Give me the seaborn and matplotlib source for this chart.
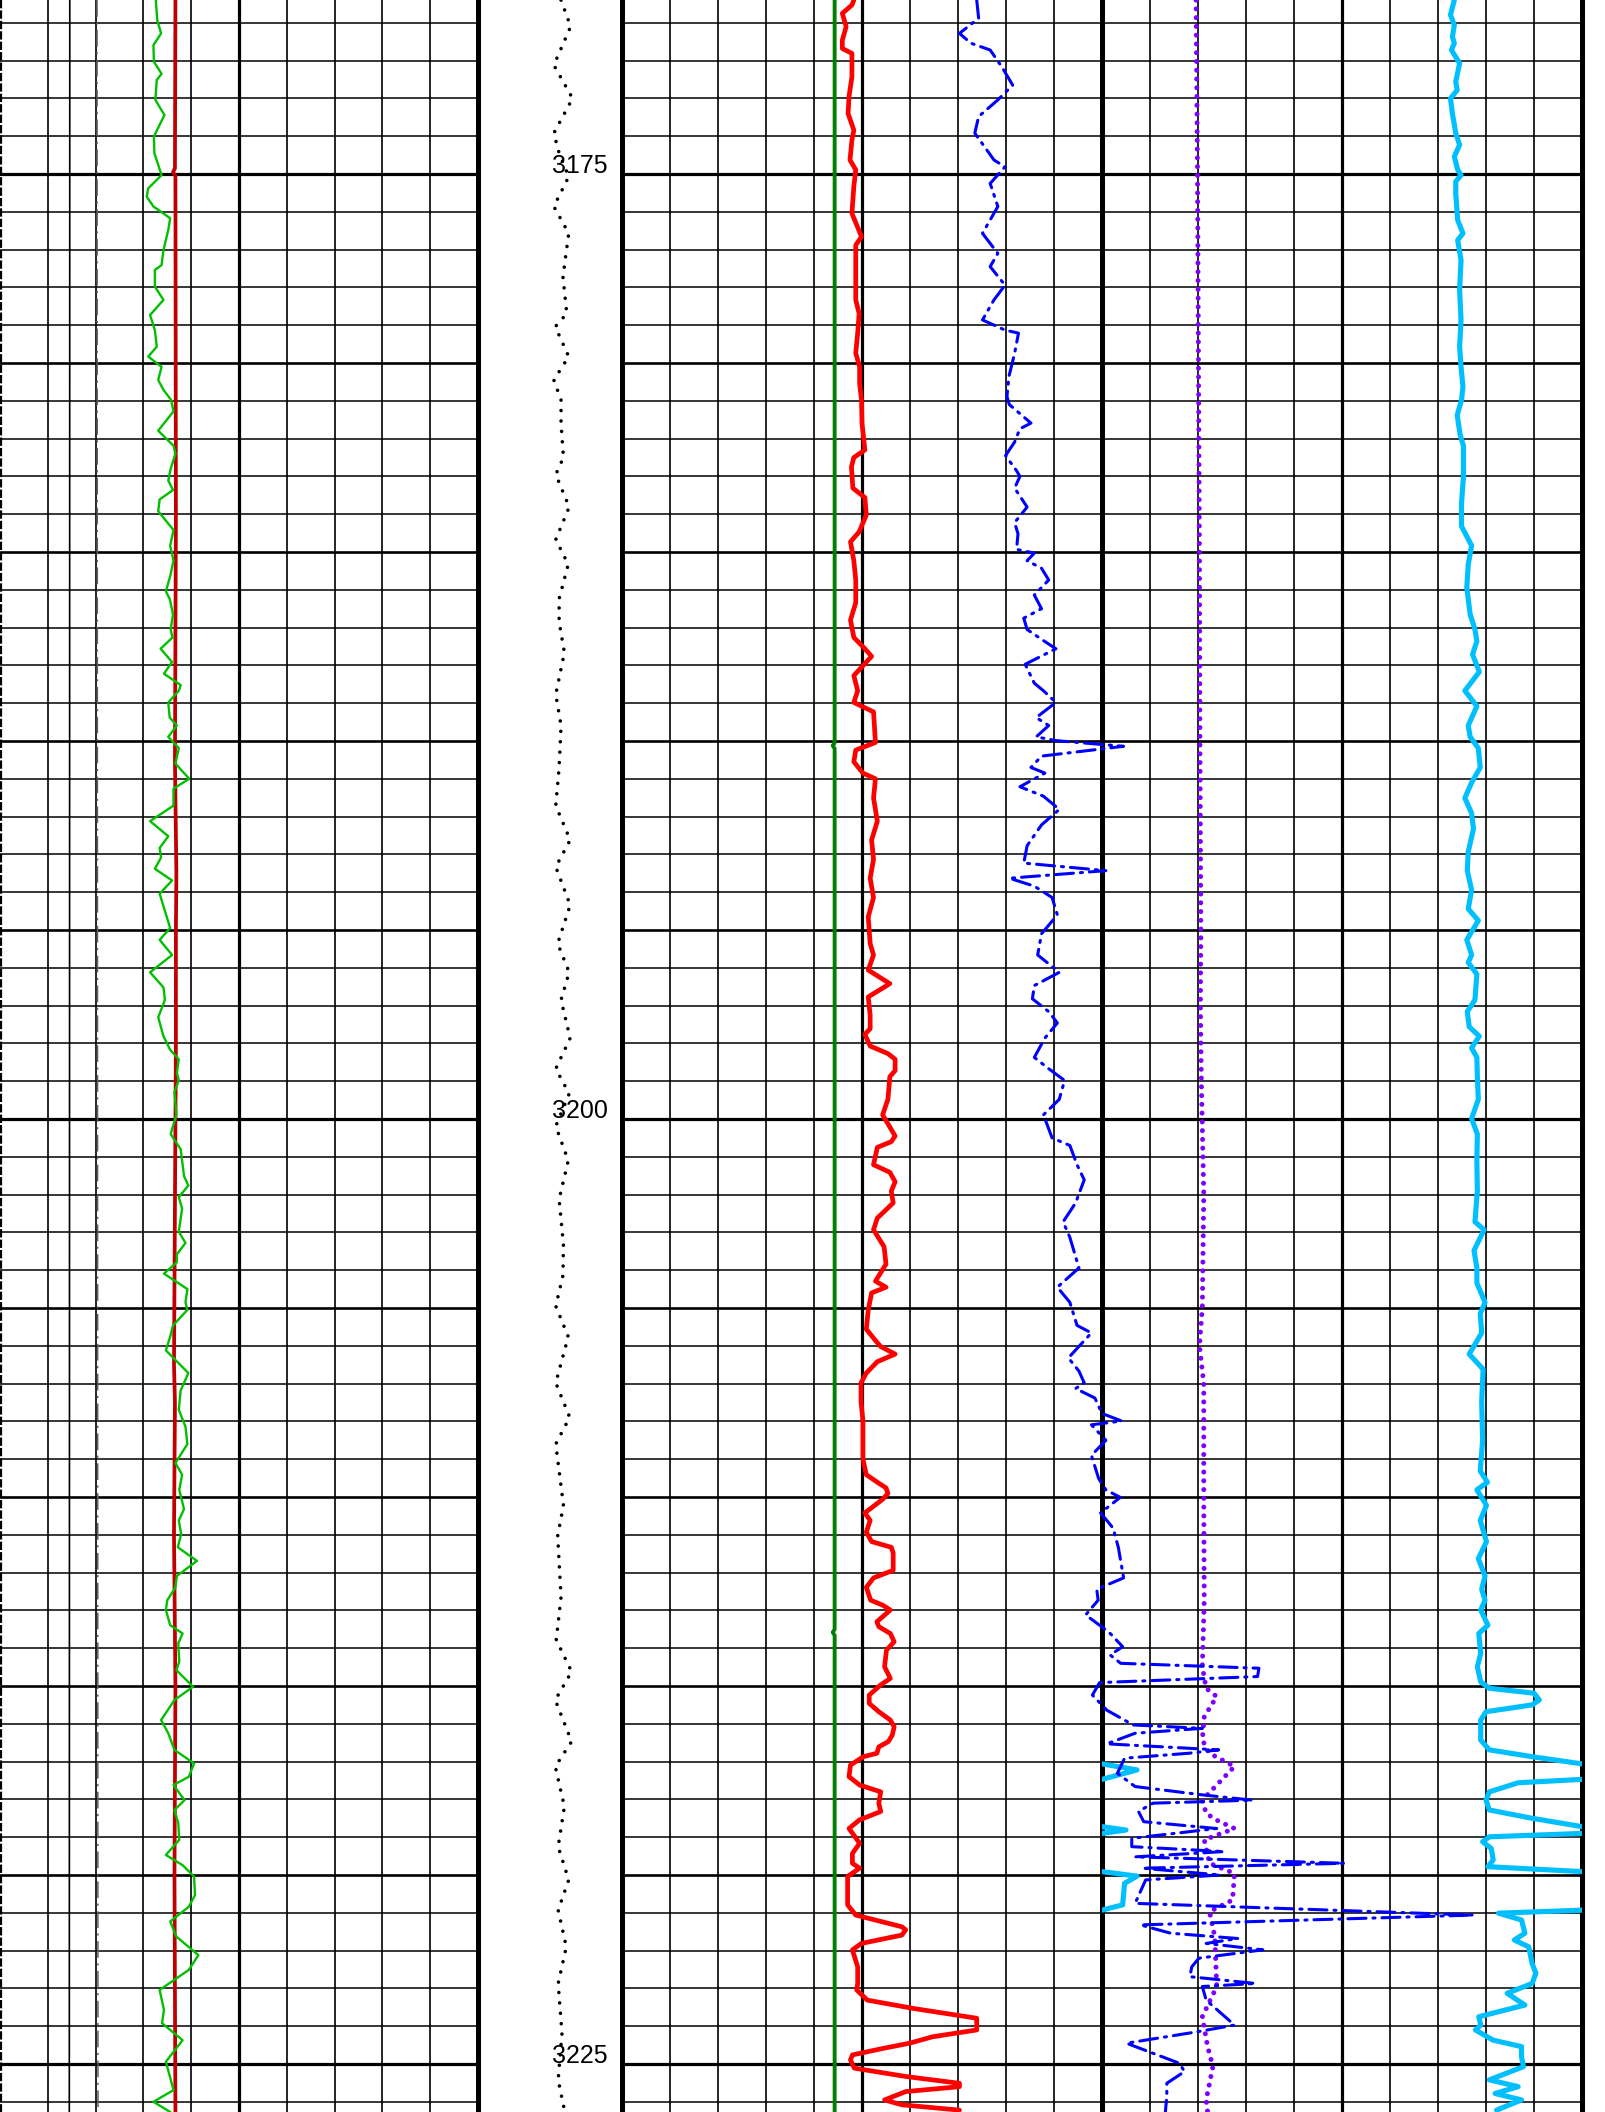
import numpy as np
import matplotlib
matplotlib.use("Agg")
import matplotlib.pyplot as plt
import seaborn as sns

sns.set_style("white")
plt.rcParams["font.family"] = ["Liberation Sans", "DejaVu Sans"]
plt.rcParams["lines.scale_dashes"] = False

# ---------------------------------------------------------------------------
# Log curves: (depth in m, reading in chart divisions of the track it uses)
# ---------------------------------------------------------------------------

# Track 1 -- gamma ray (thin green)
gr_log = [
    (3170.40, 3.26), (3170.93, 3.29), (3171.28, 3.37), (3171.59, 3.21), (3172.03, 3.22),
    (3172.35, 3.38), (3172.51, 3.28), (3173.04, 3.25), (3173.44, 3.44), (3174.01, 3.22),
    (3174.45, 3.23), (3175.03, 3.38), (3175.38, 3.10), (3175.60, 3.07), (3175.86, 3.21),
    (3176.17, 3.56), (3176.48, 3.52), (3177.01, 3.42), (3177.41, 3.38), (3177.54, 3.24),
    (3177.98, 3.24), (3178.33, 3.42), (3178.73, 3.14), (3179.13, 3.24), (3179.57, 3.28),
    (3179.83, 3.10), (3180.10, 3.38), (3180.45, 3.31), (3180.71, 3.42), (3180.98, 3.58),
    (3181.28, 3.63), (3181.79, 3.31), (3182.19, 3.63), (3182.40, 3.67), (3182.80, 3.57),
    (3183.11, 3.52), (3183.36, 3.62), (3183.61, 3.34), (3183.92, 3.31), (3184.42, 3.63),
    (3184.83, 3.56), (3185.23, 3.63), (3185.64, 3.56), (3186.04, 3.47), (3186.24, 3.55),
    (3186.65, 3.62), (3187.05, 3.57), (3187.26, 3.61), (3187.56, 3.36), (3187.91, 3.60),
    (3188.22, 3.43), (3188.52, 3.78), (3188.67, 3.74), (3188.98, 3.52), (3189.38, 3.55),
    (3189.59, 3.70), (3189.89, 3.52), (3190.19, 3.74), (3190.60, 3.67), (3191.00, 3.96),
    (3191.26, 3.63), (3191.71, 3.63), (3192.12, 3.14), (3192.52, 3.52), (3192.83, 3.34),
    (3193.08, 3.37), (3193.38, 3.24), (3193.69, 3.60), (3194.04, 3.34), (3194.95, 3.56),
    (3195.26, 3.34), (3195.66, 3.60), (3196.12, 3.14), (3196.52, 3.42), (3196.85, 3.45),
    (3197.31, 3.31), (3197.81, 3.42), (3198.17, 3.56), (3198.42, 3.74), (3198.78, 3.70),
    (3198.98, 3.74), (3199.28, 3.65), (3199.89, 3.69), (3200.40, 3.57), (3200.80, 3.78),
    (3201.10, 3.81), (3201.51, 3.85), (3201.76, 3.94), (3202.07, 3.74), (3202.37, 3.81),
    (3202.98, 3.74), (3203.28, 3.88), (3203.58, 3.70), (3203.79, 3.70), (3204.09, 3.43),
    (3204.50, 3.92), (3204.85, 3.88), (3205.05, 3.92), (3205.46, 3.62), (3205.76, 3.56),
    (3206.12, 3.47), (3206.72, 3.94), (3207.18, 3.78), (3207.69, 3.74), (3208.14, 3.88),
    (3208.60, 3.92), (3209.10, 3.67), (3209.41, 3.81), (3209.81, 3.75), (3210.32, 3.85),
    (3210.62, 3.74), (3210.98, 3.79), (3211.33, 3.72), (3211.69, 4.12), (3212.09, 3.70),
    (3212.39, 3.67), (3212.73, 3.50), (3212.99, 3.47), (3213.39, 3.56), (3213.61, 3.82),
    (3213.87, 3.73), (3214.36, 3.75), (3214.58, 3.69), (3215.02, 4.04), (3215.37, 3.65),
    (3215.90, 3.37), (3216.25, 3.52), (3216.69, 3.65), (3217.05, 4.06), (3217.40, 3.95),
    (3217.62, 3.63), (3218.02, 3.86), (3218.28, 3.65), (3218.63, 3.73), (3219.07, 3.75),
    (3219.47, 3.47), (3219.74, 3.82), (3220.04, 4.06), (3220.53, 4.08), (3220.84, 3.95),
    (3221.23, 3.56), (3221.63, 3.69), (3222.12, 4.15), (3222.51, 3.95), (3223.04, 3.34),
    (3223.57, 3.43), (3223.92, 3.39), (3224.37, 3.82), (3224.94, 3.47), (3225.69, 3.63),
    (3226.00, 3.21), (3226.27, 3.56),
]

# Track 1 -- caliper (dark red)
cali_log = [
    (3170.40, 3.67), (3174.85, 3.66), (3174.95, 3.62), (3175.05, 3.67), (3184.00, 3.68),
    (3190.50, 3.66), (3193.50, 3.69), (3195.00, 3.68), (3198.00, 3.68), (3206.50, 3.64),
    (3207.50, 3.66), (3211.00, 3.64), (3215.00, 3.67), (3220.00, 3.65), (3226.27, 3.67),
]

# Track 1 -- bit size (black), SP (grey dash-dot), left-edge trace (black dashed)
bs_log = [(3170.40, 1.46), (3226.27, 1.45)]
sp_log = [(3170.40, 2.03), (3226.27, 2.05)]
edge_log = [(3170.40, 0.03), (3226.27, 0.03)]

# Depth track -- cable tension (black dots), 0-3 scale across the depth column
tens_log = [
    (3170.40, 1.73), (3171.10, 1.93), (3172.12, 1.58), (3173.00, 1.97), (3173.92, 1.58),
    (3174.45, 1.69), (3175.07, 1.89), (3175.86, 1.58), (3176.57, 1.89), (3177.72, 1.77),
    (3178.69, 1.85), (3179.04, 1.61), (3179.83, 1.89), (3180.45, 1.58), (3180.98, 1.73),
    (3181.59, 1.73), (3182.50, 1.78), (3182.95, 1.62), (3183.81, 1.90), (3184.67, 1.62),
    (3185.33, 1.88), (3186.24, 1.69), (3186.85, 1.69), (3187.66, 1.80), (3188.77, 1.62),
    (3189.59, 1.73), (3190.70, 1.69), (3191.71, 1.62), (3192.62, 1.92), (3193.33, 1.62),
    (3194.34, 1.92), (3195.36, 1.66), (3196.12, 1.90), (3196.85, 1.73), (3197.86, 1.92),
    (3198.67, 1.62), (3199.33, 1.90), (3200.19, 1.62), (3201.10, 1.88), (3202.12, 1.69),
    (3203.33, 1.78), (3204.14, 1.77), (3204.95, 1.62), (3205.76, 1.88), (3206.98, 1.62),
    (3207.89, 1.91), (3208.60, 1.62), (3210.22, 1.78), (3211.03, 1.66), (3212.65, 1.73),
    (3213.78, 1.63), (3214.62, 1.95), (3215.37, 1.61), (3216.47, 1.95), (3217.13, 1.61),
    (3218.19, 1.80), (3219.25, 1.67), (3220.13, 1.89), (3220.93, 1.67), (3221.90, 1.84),
    (3222.87, 1.67), (3224.19, 1.75), (3225.42, 1.67), (3226.22, 1.80),
]

# Track 2 -- SP baseline (dark green)
spbl_log = [(3170.40, 4.43), (3190.05, 4.43), (3190.12, 4.39), (3190.20, 4.43),
            (3213.50, 4.43), (3213.58, 4.39), (3213.66, 4.43), (3226.27, 4.43)]

# Track 2 -- shale volume (thick red)
red2_log = [
    (3170.40, 4.83), (3170.53, 4.79), (3170.75, 4.59), (3171.10, 4.67), (3171.46, 4.59),
    (3171.68, 4.59), (3171.81, 4.79), (3172.43, 4.79), (3172.95, 4.73), (3173.40, 4.71),
    (3173.84, 4.83), (3174.10, 4.79), (3174.63, 4.75), (3174.89, 4.87), (3175.33, 4.83),
    (3176.04, 4.79), (3176.66, 4.99), (3176.88, 4.87), (3178.33, 4.87), (3178.69, 4.94),
    (3179.21, 4.91), (3179.74, 4.87), (3180.10, 4.95), (3180.54, 4.95), (3180.98, 4.99),
    (3181.59, 5.00), (3182.30, 5.06), (3182.50, 4.83), (3182.75, 4.78), (3183.31, 4.81),
    (3183.56, 5.06), (3184.02, 5.09), (3184.47, 4.94), (3184.73, 4.76), (3185.23, 4.83),
    (3185.74, 4.87), (3186.34, 4.87), (3186.80, 4.76), (3187.26, 4.83), (3187.56, 5.06),
    (3187.76, 5.20), (3188.27, 4.83), (3188.67, 4.91), (3188.98, 4.83), (3189.23, 5.24),
    (3190.04, 5.28), (3190.24, 4.87), (3190.55, 4.83), (3190.85, 5.02), (3191.00, 5.28),
    (3191.51, 5.24), (3192.12, 5.32), (3192.62, 5.20), (3193.13, 5.24), (3193.63, 5.17),
    (3194.14, 5.24), (3194.65, 5.13), (3195.36, 5.17), (3195.66, 5.24), (3196.06, 5.13),
    (3196.42, 5.58), (3196.77, 5.13), (3197.26, 5.17), (3197.61, 5.17), (3197.76, 5.06),
    (3198.07, 5.17), (3198.27, 5.54), (3198.42, 5.69), (3198.72, 5.69), (3198.88, 5.58),
    (3199.48, 5.54), (3199.89, 5.43), (3200.45, 5.69), (3200.60, 5.61), (3200.75, 5.32),
    (3201.21, 5.24), (3201.41, 5.58), (3201.66, 5.69), (3201.91, 5.61), (3202.22, 5.65),
    (3202.62, 5.32), (3202.93, 5.24), (3203.38, 5.46), (3203.84, 5.50), (3204.29, 5.28),
    (3204.45, 5.50), (3204.60, 5.20), (3205.05, 5.13), (3205.56, 5.09), (3205.86, 5.28),
    (3206.02, 5.39), (3206.22, 5.69), (3206.42, 5.32), (3206.72, 5.09), (3206.98, 4.98),
    (3207.48, 4.98), (3207.99, 5.02), (3209.00, 5.02), (3209.41, 5.09), (3209.61, 5.32),
    (3209.76, 5.50), (3209.91, 5.54), (3210.06, 5.43), (3210.42, 5.06), (3210.62, 5.17),
    (3210.93, 5.09), (3211.18, 5.20), (3211.33, 5.61), (3211.48, 5.65), (3211.74, 5.65),
    (3211.94, 5.65), (3212.14, 5.24), (3212.39, 5.09), (3212.73, 5.18), (3212.86, 5.43),
    (3212.99, 5.59), (3213.30, 5.31), (3213.43, 5.35), (3213.61, 5.59), (3213.83, 5.67),
    (3214.05, 5.51), (3214.49, 5.47), (3214.80, 5.59), (3214.97, 5.39), (3215.24, 5.15),
    (3215.46, 5.15), (3215.68, 5.35), (3215.90, 5.59), (3216.08, 5.67), (3216.30, 5.63),
    (3216.47, 5.55), (3216.61, 5.35), (3216.78, 5.31), (3216.87, 5.03), (3217.09, 4.76),
    (3217.40, 4.73), (3217.62, 4.95), (3217.80, 5.39), (3218.10, 5.35), (3218.32, 5.39),
    (3218.54, 4.95), (3218.77, 4.73), (3219.16, 4.95), (3219.43, 4.80), (3219.69, 4.80),
    (3219.82, 4.95), (3220.04, 4.70), (3220.79, 4.70), (3221.06, 4.87), (3221.37, 5.83),
    (3221.45, 5.91), (3221.59, 5.83), (3221.81, 4.99), (3221.98, 4.80), (3222.43, 4.91),
    (3222.87, 4.91), (3223.04, 4.89), (3223.31, 5.11), (3223.53, 6.07), (3223.79, 7.39),
    (3223.97, 7.39), (3224.10, 7.39), (3224.28, 6.47), (3224.45, 5.99), (3224.59, 5.43),
    (3224.76, 4.80), (3224.89, 4.76), (3225.11, 4.84), (3225.33, 5.91), (3225.51, 7.03),
    (3225.60, 7.03), (3225.73, 5.91), (3225.95, 5.47), (3226.08, 5.83), (3226.22, 7.03),
]

# Tracks 2+3 -- deep resistivity (blue dash-dot), 0-20 across both tracks
res_log = [
    (3170.40, 7.39), (3170.88, 7.43), (3171.28, 7.03), (3171.54, 7.27), (3171.72, 7.67),
    (3172.16, 7.91), (3172.65, 8.14), (3173.04, 7.83), (3173.48, 7.43), (3173.92, 7.35),
    (3174.63, 7.75), (3174.81, 7.98), (3175.25, 7.67), (3175.86, 7.83), (3176.57, 7.51),
    (3177.10, 7.83), (3177.45, 7.67), (3177.94, 7.98), (3178.33, 7.75), (3178.86, 7.51),
    (3179.13, 7.98), (3179.21, 8.26), (3179.74, 8.18), (3180.36, 8.06), (3180.89, 8.02),
    (3181.10, 8.07), (3181.59, 8.52), (3181.74, 8.29), (3182.09, 8.18), (3182.45, 7.99),
    (3182.85, 8.22), (3183.00, 8.29), (3183.31, 8.18), (3183.81, 8.44), (3184.22, 8.18),
    (3184.52, 8.25), (3184.93, 8.22), (3185.03, 8.59), (3185.23, 8.44), (3185.43, 8.74),
    (3185.74, 8.89), (3186.14, 8.59), (3186.50, 8.74), (3186.75, 8.37), (3187.05, 8.44),
    (3187.31, 8.74), (3187.56, 9.04), (3187.97, 8.40), (3188.47, 8.59), (3188.67, 8.78),
    (3188.98, 9.04), (3189.38, 8.63), (3189.59, 8.89), (3189.89, 8.63), (3189.99, 9.04),
    (3190.14, 10.45), (3190.40, 8.74), (3190.70, 8.52), (3190.85, 8.81), (3191.21, 8.29),
    (3191.46, 8.78), (3191.81, 9.11), (3192.22, 8.74), (3192.77, 8.44), (3193.23, 8.37),
    (3193.43, 10.08), (3193.63, 8.07), (3193.84, 8.59), (3194.14, 8.96), (3194.60, 9.07),
    (3195.10, 8.74), (3195.66, 8.66), (3196.12, 9.11), (3196.47, 8.59), (3196.82, 8.55),
    (3197.16, 8.89), (3197.46, 9.07), (3197.86, 8.81), (3198.37, 8.59), (3198.67, 8.89),
    (3198.98, 9.22), (3199.48, 9.11), (3199.89, 8.78), (3200.50, 8.96), (3200.70, 9.33),
    (3201.21, 9.48), (3201.61, 9.63), (3202.22, 9.45), (3202.72, 9.19), (3203.13, 9.33),
    (3203.94, 9.52), (3204.45, 9.07), (3204.85, 9.33), (3205.46, 9.48), (3205.66, 9.78),
    (3205.96, 9.56), (3206.32, 9.30), (3206.67, 9.52), (3206.98, 9.63), (3207.13, 9.45),
    (3207.38, 9.85), (3207.79, 10.00), (3207.99, 10.41), (3208.09, 9.78), (3208.50, 10.08),
    (3208.90, 9.78), (3209.51, 9.93), (3209.81, 10.08), (3210.01, 10.38), (3210.42, 9.97),
    (3210.82, 10.23), (3211.33, 10.34), (3212.14, 10.45), (3212.44, 9.89), (3212.73, 9.92),
    (3213.12, 9.66), (3213.43, 9.99), (3213.61, 10.17), (3213.96, 10.43), (3214.18, 10.17),
    (3214.40, 10.39), (3214.53, 13.27), (3214.75, 13.24), (3214.91, 9.95), (3215.24, 9.80),
    (3215.64, 10.10), (3216.03, 10.65), (3216.12, 12.09), (3216.25, 10.69), (3216.53, 10.10),
    (3216.69, 12.43), (3216.78, 11.80), (3216.91, 10.47), (3217.31, 10.32), (3217.66, 10.69),
    (3217.88, 12.09), (3218.02, 13.13), (3218.10, 11.06), (3218.32, 10.76), (3218.59, 10.87),
    (3218.77, 12.39), (3219.03, 10.62), (3219.25, 10.62), (3219.38, 12.54), (3219.52, 10.69),
    (3219.69, 15.05), (3219.82, 10.84), (3220.00, 12.46), (3220.13, 10.91), (3220.75, 10.69),
    (3221.06, 17.74), (3221.32, 10.80), (3221.54, 11.43), (3221.68, 12.83), (3221.81, 12.17),
    (3221.98, 13.35), (3222.20, 12.02), (3222.43, 11.87), (3222.69, 11.83), (3222.87, 13.20),
    (3222.95, 12.09), (3223.31, 12.17), (3223.97, 12.76), (3224.14, 12.02), (3224.45, 10.51),
    (3224.98, 11.61), (3225.20, 11.72), (3225.51, 11.35), (3225.86, 11.35), (3226.27, 11.32),
]

# Track 3 -- photoelectric factor (purple dots)
pef_log = [
    (3170.40, 1.96), (3172.00, 1.97), (3175.00, 1.99), (3180.00, 2.01), (3185.00, 2.03),
    (3190.00, 2.04), (3195.00, 2.06), (3197.00, 2.05), (3199.00, 2.07), (3202.00, 2.12),
    (3205.00, 2.09), (3206.00, 2.03), (3207.00, 2.12), (3210.00, 2.12), (3212.73, 2.13),
    (3214.49, 2.09), (3215.06, 2.17), (3215.28, 2.39), (3215.81, 2.13), (3216.43, 2.09),
    (3216.78, 2.24), (3217.13, 2.76), (3217.62, 2.39), (3218.02, 2.09), (3218.37, 2.17),
    (3218.55, 2.39), (3218.77, 2.76), (3219.07, 2.13), (3219.69, 2.24), (3219.96, 2.76),
    (3220.66, 2.72), (3220.97, 2.24), (3221.63, 2.35), (3222.95, 2.39), (3223.75, 2.09),
    (3224.54, 2.20), (3225.07, 2.31), (3225.95, 2.17), (3226.27, 2.20),
]

# Track 3 -- sonic (thick cyan), wraps around at the right edge
dt_log = [
    (3170.40, 7.34), (3170.79, 7.26), (3171.06, 7.34), (3171.37, 7.30), (3171.54, 7.34),
    (3171.72, 7.28), (3172.07, 7.45), (3172.56, 7.37), (3172.78, 7.40), (3173.00, 7.26),
    (3173.40, 7.30), (3173.92, 7.37), (3174.23, 7.45), (3174.54, 7.34), (3174.89, 7.41),
    (3175.03, 7.48), (3175.20, 7.37), (3175.51, 7.37), (3176.22, 7.41), (3176.57, 7.52),
    (3176.75, 7.41), (3177.28, 7.48), (3178.07, 7.45), (3178.86, 7.48), (3179.57, 7.45),
    (3180.10, 7.48), (3180.63, 7.52), (3180.98, 7.49), (3181.38, 7.40), (3181.89, 7.46),
    (3182.19, 7.53), (3183.00, 7.53), (3183.71, 7.49), (3184.32, 7.49), (3184.83, 7.70),
    (3185.33, 7.63), (3185.94, 7.60), (3186.65, 7.67), (3187.05, 7.77), (3187.36, 7.81),
    (3187.71, 7.72), (3188.17, 7.86), (3188.67, 7.56), (3189.08, 7.81), (3189.59, 7.63),
    (3189.89, 7.67), (3190.19, 7.84), (3190.70, 7.88), (3191.10, 7.70), (3191.51, 7.56),
    (3191.91, 7.70), (3192.32, 7.74), (3192.93, 7.63), (3193.43, 7.61), (3193.94, 7.70),
    (3194.44, 7.63), (3194.75, 7.84), (3195.26, 7.60), (3195.66, 7.70), (3195.86, 7.63),
    (3196.17, 7.81), (3196.85, 7.77), (3197.16, 7.61), (3197.56, 7.65), (3197.81, 7.86),
    (3198.12, 7.70), (3198.37, 7.81), (3198.88, 7.82), (3199.48, 7.84), (3199.99, 7.70),
    (3200.40, 7.82), (3201.10, 7.81), (3201.91, 7.82), (3202.72, 7.77), (3202.93, 7.96),
    (3203.48, 7.75), (3203.94, 7.81), (3204.34, 7.81), (3204.85, 7.98), (3205.15, 7.88),
    (3205.66, 7.91), (3206.22, 7.65), (3206.62, 7.94), (3207.48, 7.91), (3208.50, 7.93),
    (3209.31, 7.88), (3209.61, 8.03), (3209.81, 7.81), (3210.22, 8.01), (3210.62, 7.88),
    (3211.18, 8.01), (3211.63, 7.84), (3212.09, 7.98), (3212.44, 7.91), (3212.73, 7.98),
    (3212.99, 7.89), (3213.39, 8.04), (3213.61, 7.85), (3214.14, 7.89), (3214.49, 7.82),
    (3214.89, 7.89), (3215.06, 8.07), (3215.19, 9.00), (3215.37, 9.11), (3215.50, 8.96),
    (3215.68, 8.00), (3215.90, 7.89), (3216.43, 7.89), (3216.69, 8.07), (3216.87, 8.96),
    (3217.06, 10.00), (3217.22, 10.73), (3217.47, 10.00), (3217.56, 8.67), (3217.80, 8.07),
    (3218.02, 8.00), (3218.28, 8.07), (3218.50, 8.96), (3218.72, 10.00), (3218.81, 10.50),
    (3218.90, 10.00), (3218.99, 8.07), (3219.12, 7.93), (3219.30, 8.11), (3219.60, 8.15),
    (3219.78, 8.04), (3219.91, 10.00), (3220.03, 10.73), (3220.22, 10.47), (3220.79, 10.43),
    (3220.93, 10.00), (3221.01, 8.26), (3221.19, 8.74), (3221.54, 8.81), (3221.72, 8.59),
    (3221.90, 8.89), (3222.34, 8.96), (3222.60, 9.04), (3222.87, 8.96), (3223.13, 8.44),
    (3223.44, 8.81), (3223.75, 7.85), (3223.97, 7.89), (3224.10, 7.78), (3224.37, 8.15),
    (3224.54, 8.74), (3224.81, 8.74), (3225.07, 8.78), (3225.42, 8.07), (3225.60, 8.67),
    (3225.78, 8.19), (3225.95, 8.74), (3226.22, 8.22),
]

depth_labels = [3175, 3200, 3225]

# ---------------------------------------------------------------------------
# Layout: pixel geometry of the tracks and the depth scale
# ---------------------------------------------------------------------------
W, H, DPI = 1606, 2112, 100
PX_PER_M = 37.8
TOP = 3175 - 174 / PX_PER_M
BASE = TOP + H / PX_PER_M

fig = plt.figure(figsize=(W / DPI, H / DPI), dpi=DPI)
fig.patch.set_facecolor("white")


def make_track(x0, x1, xmax):
    ax = fig.add_axes([x0 / W, 0, (x1 - x0) / W, 1])
    ax.set_axis_off()
    ax.set_xlim(0, xmax)
    ax.set_ylim(BASE, TOP)
    return ax


def draw_grid(ax, left_border=True):
    for d in range(int(np.ceil(TOP)), int(BASE) + 1):
        lw = 2.3 if d % 25 == 0 else (1.9 if d % 5 == 0 else 1.1)
        ax.axhline(d, color="black", lw=lw, zorder=1)
    for k in range(11):
        if k == 0 and not left_border:
            continue
        lw = 3.6 if k in (0, 10) else (2.3 if k == 5 else 1.2)
        ax.axvline(k, color="black", lw=lw, zorder=1, clip_on=False)


def plot_log(ax, log, **kw):
    depth, value = map(np.asarray, zip(*log))
    sns.lineplot(x=value, y=depth, orient="y", sort=False, estimator=None,
                 ax=ax, legend=False, **kw)


ax1 = make_track(0, 478, 10)
axd = make_track(478, 622, 3)
ax2 = make_track(622, 1102, 10)
ax3 = make_track(1102, 1582, 10)
ax23 = make_track(622, 1582, 20)

draw_grid(ax1, left_border=False)
draw_grid(ax2)
draw_grid(ax3)

# Track 1
plot_log(ax1, edge_log, color="black", linewidth=1.6, linestyle=(0, (6, 1.5)), zorder=3)
plot_log(ax1, bs_log, color="black", linewidth=1.2, zorder=3)
plot_log(ax1, sp_log, color="#606060", linewidth=1.1,
         linestyle=(0, (12, 4, 1.5, 4)), zorder=3)
plot_log(ax1, cali_log, color="#C00000", linewidth=2.7, zorder=4)
plot_log(ax1, gr_log, color="#00C000", linewidth=1.7, zorder=5,
         solid_joinstyle="round")

# Depth column
plot_log(axd, tens_log, color="black", linewidth=2.6, linestyle=(0, (0.01, 7.5)),
         dash_capstyle="round", zorder=3)
for d in depth_labels:
    axd.text(2.71, d - 0.03, f"{d}", ha="right", va="baseline",
             fontsize=18, color="black", zorder=4)

# Track 2
plot_log(ax2, spbl_log, color="#008000", linewidth=2.8, zorder=3)
plot_log(ax2, red2_log, color="#FF0000", linewidth=3.4, zorder=4,
         solid_joinstyle="round", solid_capstyle="round")

# Track 3
plot_log(ax3, pef_log, color="#8000FF", linewidth=3.6, linestyle=(0, (0.01, 6.3)),
         dash_capstyle="round", zorder=3)
plot_log(ax3, dt_log, color="#00BFFF", linewidth=3.7, zorder=4,
         solid_joinstyle="round", solid_capstyle="round")

# wrap-around (back-up) segments of the sonic beyond the right edge
dt_depth, dt_val = map(np.asarray, zip(*dt_log))
over = np.flatnonzero(dt_val >= 10)
for run in np.split(over, np.where(np.diff(over) != 1)[0] + 1):
    if len(run) > 1:
        sns.lineplot(x=dt_val[run] - 10, y=dt_depth[run], orient="y", sort=False,
                     estimator=None, ax=ax3, legend=False, color="#00BFFF",
                     linewidth=3.7, zorder=4, solid_joinstyle="round",
                     solid_capstyle="round")

# Tracks 2+3 resistivity
plot_log(ax23, res_log, color="#0000FF", linewidth=2.2,
         linestyle=(0, (13, 5, 1.5, 5)), dash_capstyle="round",
         dash_joinstyle="round", zorder=5)

for ax, xmax in ((ax1, 10), (axd, 3), (ax2, 10), (ax3, 10), (ax23, 20)):
    ax.set_xlim(0, xmax)
    ax.set_ylim(BASE, TOP)
    ax.set_axis_off()

fig.savefig("out.png", dpi=DPI, facecolor="white")
